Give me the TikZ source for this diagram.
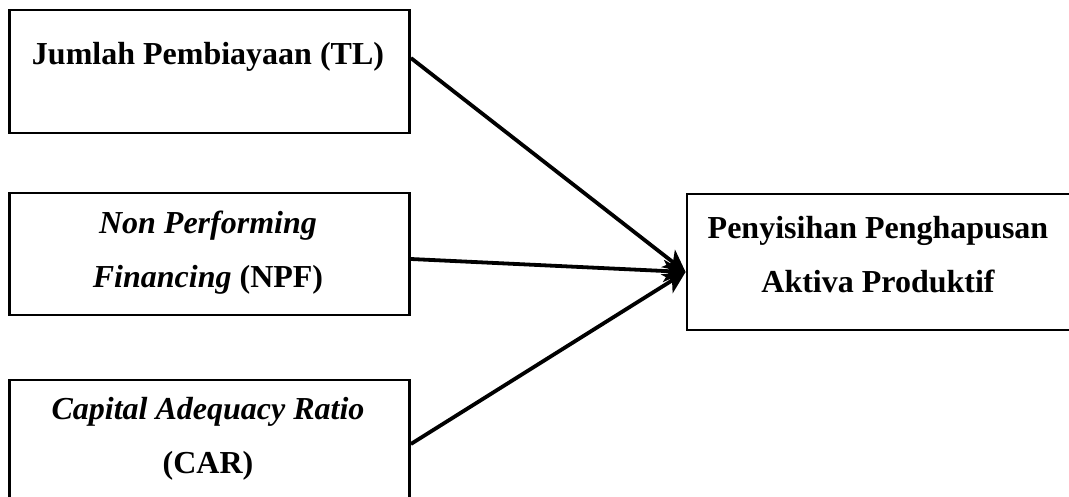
\documentclass[tikz,border=0pt]{standalone}
\usepackage{fontspec}
\setmainfont{Liberation Serif}
\usetikzlibrary{arrows.meta}
\begin{document}
\begin{tikzpicture}[x=1pt,y=-1pt,
  box/.style={draw,line width=2.8pt,minimum width=400pt,inner sep=0pt,anchor=center},
  txt/.style={font=\fontsize{32}{54}\selectfont\bfseries,align=center,inner sep=0pt,anchor=center},
  conn/.style={line width=3.8pt,-{Stealth[length=22pt,width=22pt,inset=6pt]}}]
\useasboundingbox (0,0) rectangle (1069,496);
\node[box,minimum height=123pt] (b1) at (209.5,71.5) {};
\node[box,minimum height=122pt] (b2) at (209.5,254) {};
\node[box,minimum height=120pt] (b3) at (209.5,440) {};
\node[box,minimum width=390pt,minimum height=136pt] (rb) at (882,262) {};
\node[txt] (t1) at (208,57) {Jumlah Pembiayaan (TL)};
\node[txt] (t2) at (208,253) {\textit{Non Performing}\\\textit{Financing} (NPF)};
\node[txt] (t3) at (208,439) {\textit{Capital Adequacy Ratio}\\(CAR)};
\node[txt] (t4) at (878,255) {Penyisihan Penghapusan\\Aktiva Produktif};
\draw[conn] ([yshift=13.5pt]b1.east) -- ([yshift=-10pt]rb.west);
\draw[conn] ([yshift=-5pt]b2.east) -- ([yshift=-10pt]rb.west);
\draw[conn] ([yshift=-4pt]b3.east) -- ([yshift=-10pt]rb.west);
\end{tikzpicture}
\end{document}
